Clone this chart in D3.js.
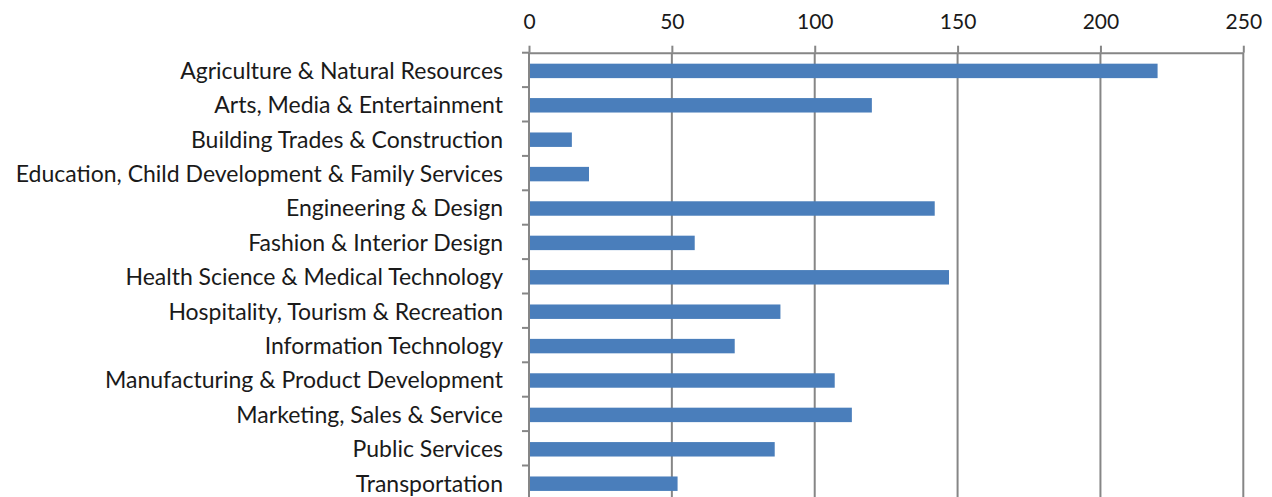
<!DOCTYPE html>
<html>
<head>
<meta charset="utf-8">
<script src="https://cdn.jsdelivr.net/npm/d3@7"></script>
<style>
  body { margin: 0; background: #fff; }
  svg { display: block; }
</style>
</head>
<body>
<div id="chart"></div>
<script>
// category names, top to bottom
const categories = [
  "Agriculture & Natural Resources",
  "Arts, Media & Entertainment",
  "Building Trades & Construction",
  "Education, Child Development & Family Services",
  "Engineering & Design",
  "Fashion & Interior Design",
  "Health Science & Medical Technology",
  "Hospitality, Tourism & Recreation",
  "Information Technology",
  "Manufacturing & Product Development",
  "Marketing, Sales & Service",
  "Public Services",
  "Transportation"
];
const values = [220, 120, 15, 21, 142, 58, 147, 88, 72, 107, 113, 86, 52];
const xTicks = [0, 50, 100, 150, 200, 250];

const width = 1272, height = 497;
const plotLeft = 529, plotRight = 1243.3, plotTop = 52.7, rowStep = 34.4;

const svg = d3.select("#chart").append("svg")
  .attr("width", width)
  .attr("height", height)
  .style("font-family", "Lato, 'Open Sans', sans-serif");

const x = d3.scaleLinear().domain([0, 250]).range([plotLeft, plotRight]);
const y = d3.scaleBand()
  .domain(categories)
  .range([plotTop, plotTop + rowStep * categories.length])
  .paddingInner(0.58)
  .paddingOuter(0.29);

const gridColor = "#868686";

// vertical gridlines
svg.append("g")
  .selectAll("line")
  .data(xTicks)
  .join("line")
  .attr("x1", d => x(d)).attr("x2", d => x(d))
  .attr("y1", plotTop).attr("y2", height + 10)
  .attr("stroke", gridColor)
  .attr("stroke-width", 2);

// top axis
const xAxis = svg.append("g")
  .attr("transform", `translate(0,${plotTop})`)
  .call(d3.axisTop(x).tickValues(xTicks).tickSize(7).tickSizeOuter(0).tickPadding(16.5));
xAxis.select(".domain").attr("stroke", gridColor).attr("stroke-width", 2);
xAxis.selectAll(".tick line").attr("stroke", gridColor).attr("stroke-width", 2);
xAxis.selectAll(".tick text")
  .attr("fill", "#1a1a1a")
  .style("font-size", "21px")
  .style("font-family", "Lato, 'Open Sans', sans-serif");

// bars
svg.append("g")
  .selectAll("rect")
  .data(values)
  .join("rect")
  .attr("x", x(0))
  .attr("y", (d, i) => y(categories[i]) + 1)
  .attr("width", d => x(d) - x(0))
  .attr("height", y.bandwidth())
  .attr("fill", "#4a7ebb");

// left axis line + boundary ticks
const boundaries = categories.map(c => y(c) - y.step() * y.paddingInner() / 2);
svg.append("line")
  .attr("x1", plotLeft).attr("x2", plotLeft)
  .attr("y1", plotTop).attr("y2", height + 10)
  .attr("stroke", gridColor).attr("stroke-width", 2);
svg.append("g")
  .selectAll("line")
  .data(boundaries)
  .join("line")
  .attr("x1", plotLeft - 7).attr("x2", plotLeft)
  .attr("y1", d => d).attr("y2", d => d)
  .attr("stroke", gridColor).attr("stroke-width", 2);

// category labels
const yAxis = svg.append("g")
  .attr("transform", `translate(${plotLeft},1.5)`)
  .call(d3.axisLeft(y).tickSize(0).tickPadding(26));
yAxis.select(".domain").remove();
yAxis.selectAll(".tick text")
  .attr("fill", "#1a1a1a")
  .style("font-size", "23px")
  .style("font-family", "Lato, 'Open Sans', sans-serif");
</script>
</body>
</html>
